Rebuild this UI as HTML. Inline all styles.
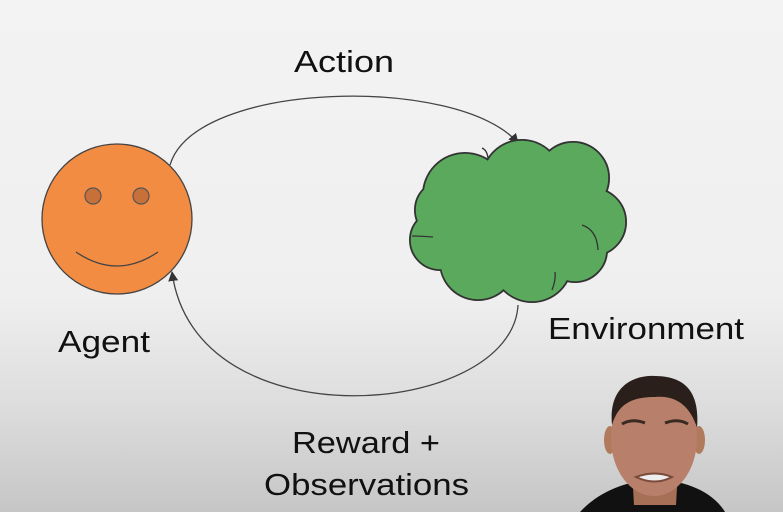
<!DOCTYPE html>
<html><head><meta charset="utf-8"><style>
html,body{margin:0;padding:0;width:783px;height:512px;overflow:hidden;}
</style></head><body>
<svg width="783" height="512" viewBox="0 0 783 512" xmlns="http://www.w3.org/2000/svg">
<defs>
<linearGradient id="bg" x1="0" y1="0" x2="0" y2="1">
<stop offset="0" stop-color="#f3f3f3"/>
<stop offset="0.58" stop-color="#efefef"/>
<stop offset="0.8" stop-color="#dcdcdc"/>
<stop offset="1" stop-color="#c6c6c6"/>
</linearGradient>
<marker id="ah" markerWidth="10" markerHeight="10" refX="9" refY="5" orient="auto" markerUnits="userSpaceOnUse">
<path d="M0,0 L10,5 L0,10 Z" fill="#333"/>
</marker>
</defs>
<rect width="783" height="512" fill="url(#bg)"/>

<path d="M170,165 C195,80 460,75 518,143" fill="none" stroke="#444" stroke-width="1.3" marker-end="url(#ah)"/>
<path d="M518,305 C512,418 195,445 172,272" fill="none" stroke="#444" stroke-width="1.3" marker-end="url(#ah)"/>

<circle cx="117" cy="219" r="75" fill="#f28c42" stroke="#444" stroke-width="1.3"/>
<circle cx="93" cy="196" r="8" fill="#c8703a" stroke="#555" stroke-width="1.2"/>
<circle cx="141" cy="196" r="8" fill="#c8703a" stroke="#555" stroke-width="1.2"/>
<path d="M76,252 Q117,280 158,252" fill="none" stroke="#444" stroke-width="1.3"/>

<g stroke="#333" stroke-width="2" fill="#5aa95d">
<circle cx="465" cy="195" r="42"/>
<circle cx="522" cy="180" r="40"/>
<circle cx="573" cy="178" r="36"/>
<circle cx="592" cy="222" r="34"/>
<circle cx="440" cy="240" r="30"/>
<circle cx="478" cy="262" r="38"/>
<circle cx="532" cy="262" r="40"/>
<circle cx="575" cy="250" r="32"/>
<circle cx="445" cy="210" r="30"/>
</g>
<g fill="#5aa95d">
<circle cx="465" cy="195" r="41.2"/>
<circle cx="522" cy="180" r="39.2"/>
<circle cx="573" cy="178" r="35.2"/>
<circle cx="592" cy="222" r="33.2"/>
<circle cx="440" cy="240" r="29.2"/>
<circle cx="478" cy="262" r="37.2"/>
<circle cx="532" cy="262" r="39.2"/>
<circle cx="575" cy="250" r="31.2"/>
<circle cx="445" cy="210" r="29.2"/>
<circle cx="520" cy="225" r="50"/>
</g>
<g stroke="#333" stroke-width="1.3" fill="none">
<path d="M482,148 Q487,150 488,158"/>
<path d="M582,225 Q597,230 598,250"/>
<path d="M412,236 Q420,236 433,237"/>
<path d="M555,272 Q556,280 552,290"/>
</g>

<g font-family="Liberation Sans, sans-serif" font-size="31" fill="#111">
<text x="294" y="72" textLength="100" lengthAdjust="spacingAndGlyphs">Action</text>
<text x="58" y="352" textLength="92" lengthAdjust="spacingAndGlyphs">Agent</text>
<text x="548" y="339" textLength="196" lengthAdjust="spacingAndGlyphs">Environment</text>
<text x="292" y="453" textLength="148" lengthAdjust="spacingAndGlyphs">Reward +</text>
<text x="264" y="495" textLength="205" lengthAdjust="spacingAndGlyphs">Observations</text>
</g>

<path d="M580,512 C600,490 630,480 655,480 C690,480 715,495 725,512 Z" fill="#111"/>
<ellipse cx="610" cy="440" rx="6" ry="14" fill="#b07a5c"/>
<ellipse cx="699" cy="440" rx="6" ry="14" fill="#b07a5c"/>
<path d="M632,470 L678,470 L676,505 L634,505 Z" fill="#a57055"/>
<ellipse cx="654" cy="438" rx="43" ry="58" fill="#b8806a"/>
<path d="M612,425 C608,385 635,375 655,376 C685,376 700,392 697,428 C690,405 675,395 655,397 C630,397 618,405 612,425 Z" fill="#2a1f1a"/>
<path d="M622,424 Q632,418 645,423 M665,423 Q678,418 688,424" stroke="#3a2a22" stroke-width="3" fill="none"/>
<path d="M636,477 Q655,470 672,477 Q655,486 636,477 Z" fill="#eee" stroke="#7a4a3a" stroke-width="2"/>
</svg>
</body></html>
